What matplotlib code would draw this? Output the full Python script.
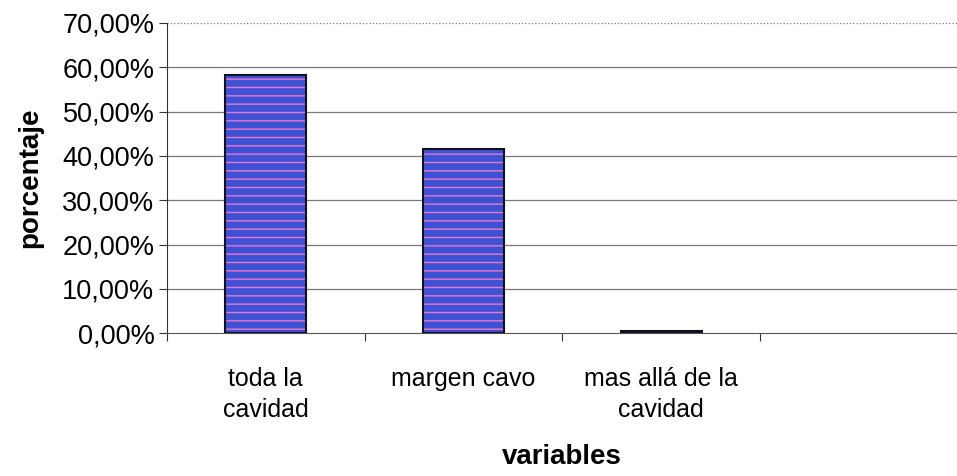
import matplotlib.pyplot as plt
from matplotlib.ticker import FuncFormatter

plt.rcParams['font.family'] = ['Liberation Sans', 'DejaVu Sans']

categorias = ["toda la\ncavidad", "margen cavo", "mas allá de la\ncavidad", ""]
porcentajes = [58.2, 41.5, 0.5]
colores = ["#3f52d6", "#3f52d6", "#1a1a50"]
yticks = [0, 10, 20, 30, 40, 50, 60, 70]

fig = plt.figure(figsize=(9.57, 4.76), dpi=100)
ax = fig.add_axes([0.1745, 0.300, 0.826, 0.652])

x = list(range(len(porcentajes)))
# relleno con rayas rosadas (como el escaneo)
ax.bar(x, porcentajes, width=0.41, color=colores, hatch="--", edgecolor="#e878c8",
       linewidth=0, zorder=3)
ax.bar(x, porcentajes, width=0.41, fill=False, edgecolor="#101020", linewidth=1.5, zorder=4)

ax.set_xlim(-0.5, len(categorias) - 0.5)
ax.set_ylim(0, 70)
ax.set_yticks(yticks)
ax.yaxis.set_major_formatter(FuncFormatter(lambda v, p: f"{v:.2f}%".replace(".", ",")))
for t in yticks[1:]:
    ax.axhline(t, color="#7a7a7a", linewidth=0.9, linestyle=":" if t == 70 else "-", zorder=1)

ax.set_xticks([i + 0.5 for i in range(-1, len(categorias) - 1)])
ax.set_xticklabels([])
ax.set_xticks(range(len(categorias)), minor=True)
ax.set_xticklabels(categorias, minor=True, fontsize=18, linespacing=1.4)
ax.tick_params(axis="x", which="minor", length=0, pad=24)
ax.tick_params(axis="x", which="major", length=6, direction="out", color="#333333")
ax.tick_params(axis="y", labelsize=19.5, length=6, color="#333333", pad=3)

for s in ["top", "right"]:
    ax.spines[s].set_visible(False)
ax.spines["left"].set_color("#333333")
ax.spines["bottom"].set_color("#555555")

ax.set_ylabel("porcentaje", fontsize=20, fontweight="bold", labelpad=14)
ax.set_xlabel("variables", fontsize=20, fontweight="bold", labelpad=16)

fig.savefig("out.png", dpi=100)
